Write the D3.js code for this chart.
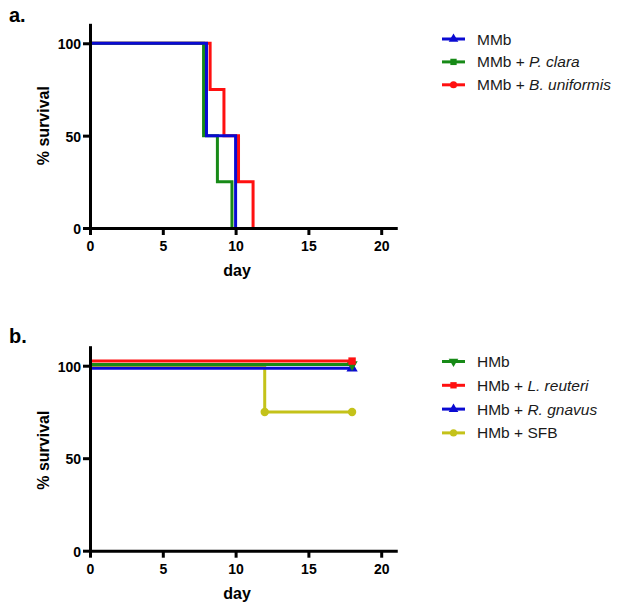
<!DOCTYPE html>
<html>
<head>
<meta charset="utf-8">
<script src="https://cdn.jsdelivr.net/npm/d3@7"></script>
<style>
  html, body { margin: 0; padding: 0; background: #fff; }
  svg { display: block; }
  text { font-family: "Liberation Sans", Arial, sans-serif; }
</style>
</head>
<body>
<svg id="chart" width="628" height="613"></svg>
<script>
// ---------- data ----------
const xTicks = [0, 5, 10, 15, 20];
const yTicks = [0, 50, 100];

// Panel a
const mmbDays  = [0, 8.0, 10.0];
const mmbSurv  = [100, 50, 0];
const pclDays  = [0, 7.8, 8.75, 9.75];
const pclSurv  = [100, 50, 25, 0];
const bunDays  = [0, 8.25, 9.2, 10.2, 11.2];
const bunSurv  = [100, 75, 50, 25, 0];

// Panel b
const hmbDays  = [0, 18];
const hmbSurv  = [100, 100];
const lreDays  = [0, 18];
const lreSurv  = [100, 100];
const rgnDays  = [0, 18];
const rgnSurv  = [100, 100];
const sfbDays  = [0, 12, 18];
const sfbSurv  = [100, 75, 75];

const zip = (d, s) => d.map((v, i) => ({day: v, surv: s[i]}));

const COL = {blue: "#0a0ad2", green: "#178a17", red: "#ff1010", yellow: "#c4c21a"};

const panels = [
  {
    label: "a.", labelY: 22,
    top: 24.8, bottom: 228, titleShift: -10,
    series: [
      {name: ["MMb + ", "B. uniformis"], pts: zip(bunDays, bunSurv), color: COL.red, sym: "circle", nudge: 0, endMarks: false},
      {name: ["MMb + ", "P. clara"], pts: zip(pclDays, pclSurv), color: COL.green, sym: "square", nudge: 0, endMarks: false},
      {name: ["MMb", ""], pts: zip(mmbDays, mmbSurv), color: COL.blue, sym: "triangleUp", nudge: 0, endMarks: false}
    ],
    legendOrder: [2, 1, 0],
    legendY: 39, legendStep: 22.9
  },
  {
    label: "b.", labelY: 343,
    top: 347.2, bottom: 550.7, titleShift: -8,
    series: [
      {name: ["HMb + SFB", ""], pts: zip(sfbDays, sfbSurv), color: COL.yellow, sym: "circle", nudge: 0, endMarks: true},
      {name: ["HMb + ", "R. gnavus"], pts: zip(rgnDays, rgnSurv), color: COL.blue, sym: "triangleUp", nudge: 2.6, endMarks: true},
      {name: ["HMb", ""], pts: zip(hmbDays, hmbSurv), color: COL.green, sym: "triangleDown", nudge: -1.3, endMarks: true},
      {name: ["HMb + ", "L. reuteri"], pts: zip(lreDays, lreSurv), color: COL.red, sym: "square", nudge: -4.6, endMarks: true}
    ],
    legendOrder: [2, 3, 1, 0],
    legendY: 361.5, legendStep: 23.8
  }
];

const svg = d3.select("#chart");
const left = 90;

function symbolPath(sym, size) {
  const t = {circle: d3.symbolCircle, square: d3.symbolSquare, triangleUp: d3.symbolTriangle, triangleDown: d3.symbolTriangle}[sym];
  return d3.symbol().type(t).size(size)();
}

panels.forEach(p => {
  const g = svg.append("g");
  const x = d3.scaleLinear().domain([0, 21]).range([left, left + 14.56 * 21]);
  const y = d3.scaleLinear().domain([0, 110]).range([p.bottom, p.top]);

  // series
  const line = d3.line().x(d => x(d.day)).y(d => y(d.surv)).curve(d3.curveStepAfter);
  p.series.forEach(s => {
    g.append("path")
      .attr("d", line(s.pts))
      .attr("transform", `translate(0,${s.nudge})`)
      .attr("fill", "none")
      .attr("stroke", s.color)
      .attr("stroke-width", 3);
    if (s.endMarks) {
      s.pts.slice(1).forEach(d => {
        g.append("path")
          .attr("d", symbolPath(s.sym, 55))
          .attr("transform", `translate(${x(d.day)},${y(d.surv) + s.nudge})${s.sym === "triangleDown" ? " rotate(180)" : ""}`)
          .attr("fill", s.color);
      });
    }
  });

  // axes
  const xAxis = g.append("g")
    .attr("transform", `translate(0,${p.bottom})`)
    .call(d3.axisBottom(x).tickValues(xTicks).tickSize(7).tickSizeOuter(0).tickPadding(6));
  const yAxis = g.append("g")
    .attr("transform", `translate(${left},0)`)
    .call(d3.axisLeft(y).tickValues(yTicks).tickSize(7).tickSizeOuter(0).tickPadding(2));
  [xAxis, yAxis].forEach(a => {
    a.select(".domain").attr("stroke", "#000").attr("stroke-width", 3).attr("stroke-linecap", "square");
    a.selectAll(".tick line").attr("stroke", "#000").attr("stroke-width", 3);
    a.selectAll(".tick text").attr("fill", "#000").attr("font-size", 14).attr("font-weight", "bold")
      .attr("font-family", '"Liberation Sans", Arial, sans-serif');
  });
  yAxis.selectAll(".tick text").attr("dy", "0.4em");

  // axis titles
  g.append("text")
    .attr("x", 237).attr("y", p.bottom + 48)
    .attr("text-anchor", "middle")
    .attr("font-size", 16).attr("font-weight", "bold")
    .text("day");
  const midY = (p.bottom + y(100)) / 2 + p.titleShift;
  g.append("text")
    .attr("transform", `translate(49,${midY}) rotate(-90)`)
    .attr("text-anchor", "middle")
    .attr("font-size", 16).attr("font-weight", "bold")
    .text("% survival");

  // panel label
  g.append("text")
    .attr("x", 9).attr("y", p.labelY)
    .attr("font-size", 20).attr("font-weight", "bold")
    .text(p.label);

  // legend
  p.legendOrder.forEach((si, k) => {
    const s = p.series[si];
    const ly = p.legendY + k * p.legendStep;
    g.append("line")
      .attr("x1", 442).attr("x2", 465).attr("y1", ly).attr("y2", ly)
      .attr("stroke", s.color).attr("stroke-width", 3);
    g.append("path")
      .attr("d", symbolPath(s.sym, 40))
      .attr("transform", `translate(453.5,${ly})${s.sym === "triangleDown" ? " rotate(180)" : ""}`)
      .attr("fill", s.color);
    const t = g.append("text")
      .attr("x", 477).attr("y", ly + 5.5)
      .attr("font-size", 15.5).attr("fill", "#1a1a1a");
    t.append("tspan").text(s.name[0]);
    if (s.name[1]) t.append("tspan").attr("font-style", "italic").text(s.name[1]);
  });
});
</script>
</body>
</html>
